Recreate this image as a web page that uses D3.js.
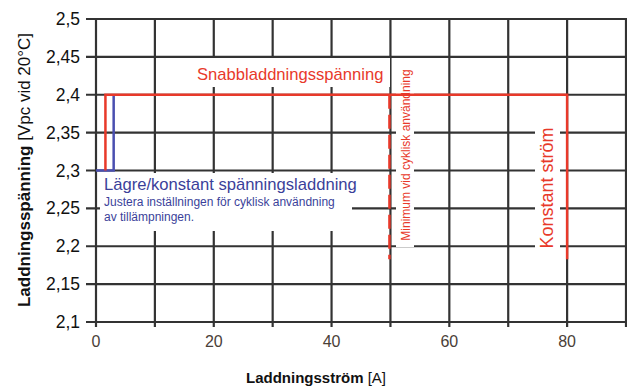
<!DOCTYPE html>
<meta charset="utf-8">
<script src="https://d3js.org/d3.v7.min.js"></script>
<style>
  body { margin: 0; background: #fff; }
  text { font-family: "Liberation Sans", Arial, sans-serif; }
</style>
<div id="my_dataviz"></div>
<script>
  // data
  var xTicks = [0, 20, 40, 60, 80];
  var xGrid = [0, 10, 20, 30, 40, 50, 60, 70, 80, 90];
  var yTicks = [2.1, 2.15, 2.2, 2.25, 2.3, 2.35, 2.4, 2.45, 2.5];
  var yTickLabels = ["2,1", "2,15", "2,2", "2,25", "2,3", "2,35", "2,4", "2,45", "2,5"];
  // fast charge line (red) and lower constant voltage line (blue)
  var fastX = [1.6, 1.6, 80, 80];
  var fastY = [2.3, 2.4, 2.4, 2.183];
  var lowX = [0, 3, 3];
  var lowY = [2.3, 2.3, 2.4];
  // minimum for cyclic use (dashed red)
  var minX = [50, 50];
  var minY = [2.4, 2.183];

  var width = 627, height = 388;
  var margin = {top: 19, right: 0, bottom: 66, left: 96};

  var svg = d3.select("#my_dataviz")
    .append("svg")
    .attr("width", width)
    .attr("height", height);

  var x = d3.scaleLinear().domain([0, 90]).range([margin.left, margin.left + 530]);
  var y = d3.scaleLinear().domain([2.1, 2.5]).range([322, margin.top]);

  var grid = svg.append("g").attr("stroke", "#333").attr("stroke-width", 2.2);
  grid.selectAll(".v").data(xGrid).enter().append("line")
    .attr("x1", d => x(d)).attr("x2", d => x(d))
    .attr("y1", y(2.5)).attr("y2", y(2.1) + 5);
  grid.selectAll(".h").data(yTicks).enter().append("line")
    .attr("x1", x(0) - 10).attr("x2", width)
    .attr("y1", d => y(d)).attr("y2", d => y(d));

  // y tick labels
  svg.append("g").selectAll("text").data(yTicks).enter().append("text")
    .attr("x", 80).attr("y", d => y(d) + 6)
    .attr("text-anchor", "end")
    .style("font-size", "17.5px")
    .attr("fill", "#111")
    .text((d, i) => yTickLabels[i]);

  // x tick labels
  svg.append("g").selectAll("text").data(xTicks).enter().append("text")
    .attr("x", d => x(d)).attr("y", 347)
    .attr("text-anchor", "middle")
    .style("font-size", "16px")
    .attr("fill", "#4a4038")
    .text(d => d);

  // axis titles
  var xt = svg.append("text")
    .attr("x", 316).attr("y", 383)
    .attr("text-anchor", "middle")
    .style("font-size", "15px")
    .attr("fill", "#111");
  xt.append("tspan").style("font-weight", "bold").text("Laddningsström");
  xt.append("tspan").text(" [A]");

  var yt = svg.append("text")
    .attr("transform", "translate(30,170) rotate(-90)")
    .attr("text-anchor", "middle")
    .style("font-size", "17px")
    .attr("fill", "#111");
  yt.append("tspan").style("font-weight", "bold").text("Laddningsspänning");
  yt.append("tspan").text(" [Vpc vid 20°C]");

  // white boxes behind labels
  var boxes = svg.append("g").attr("fill", "#fff");
  boxes.append("rect").attr("x", 190).attr("y", 58).attr("width", 200).attr("height", 29);
  boxes.append("rect").attr("x", 100).attr("y", 173).attr("width", 252).attr("height", 58);
  boxes.append("rect").attr("x", 396).attr("y", 62).attr("width", 18).attr("height", 185);
  boxes.append("rect").attr("x", 535).attr("y", 126).attr("width", 25).attr("height", 125);

  var red = "#e8392a", blue = "#3b3f9a";
  var line = d3.line().x(d => x(d[0])).y(d => y(d[1]));

  svg.append("path")
    .datum(lowX.map((d, i) => [d, lowY[i]]))
    .attr("fill", "none").attr("stroke", "#4a4fb0").attr("stroke-width", 2.5)
    .attr("d", line);
  svg.append("path")
    .datum(fastX.map((d, i) => [d, fastY[i]]))
    .attr("fill", "none").attr("stroke", red).attr("stroke-width", 2.5)
    .attr("d", line);
  svg.append("path")
    .datum(minX.map((d, i) => [d, minY[i]]))
    .attr("fill", "none").attr("stroke", red).attr("stroke-width", 2.5)
    .attr("stroke-dasharray", "14,6")
    .attr("transform", "translate(-1,0)")
    .attr("d", line);

  // labels
  svg.append("text").attr("x", 197).attr("y", 80)
    .style("font-size", "16.6px").attr("fill", red)
    .text("Snabbladdningsspänning");
  svg.append("text").attr("x", 104).attr("y", 190)
    .style("font-size", "16.6px").attr("fill", blue)
    .text("Lägre/konstant spänningsladdning");
  svg.append("text").attr("x", 104).attr("y", 206)
    .style("font-size", "12px").attr("fill", blue)
    .text("Justera inställningen för cyklisk användning");
  svg.append("text").attr("x", 104).attr("y", 221)
    .style("font-size", "12px").attr("fill", blue)
    .text("av tillämpningen.");
  svg.append("text")
    .attr("transform", "translate(410,155) rotate(-90)")
    .attr("text-anchor", "middle")
    .style("font-size", "12px").attr("fill", red)
    .text("Minimum vid cyklisk användning");
  svg.append("text")
    .attr("transform", "translate(553,188) rotate(-90)")
    .attr("text-anchor", "middle")
    .style("font-size", "18px").attr("fill", red)
    .text("Konstant ström");
</script>
